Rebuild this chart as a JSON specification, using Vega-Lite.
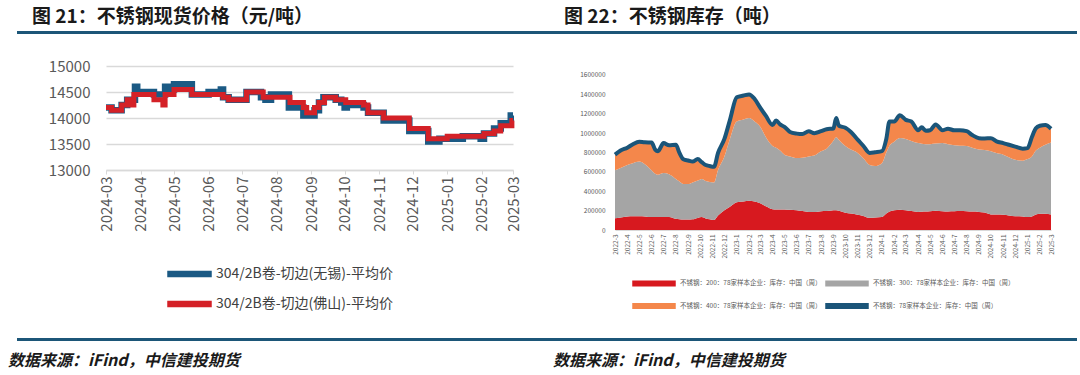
{
  "$schema": "https://vega.github.io/schema/vega-lite/v6.json",
  "background": "white",
  "padding": {"left": 8, "top": 7, "right": 0, "bottom": 0},
  "config": {
    "font": "Noto Sans CJK SC",
    "view": {"stroke": null},
    "axis": {"labelFont": "Noto Sans CJK SC", "labelColor": "#595959"},
    "legend": {"labelFont": "Noto Sans CJK SC"}
  },
  "spacing": 21,
  "vconcat": [
    {
      "spacing": 21,
      "vconcat": [
        {
          "spacing": 0,
          "hconcat": [
            {
              "width": 530, "height": 3,
              "view": {"fill": "#1c5678", "stroke": null},
              "title": {"text": "图 21：不锈钢现货价格（元/吨）", "anchor": "start", "dx": 15, "offset": 0, "fontSize": 19, "fontWeight": "bold", "font": "Noto Sans CJK SC", "color": "#1a1a1a"},
              "data": {"values": [{}]},
              "mark": {"type": "text"},
              "encoding": {"text": {"value": ""}}
            },
            {
              "width": 530, "height": 3,
              "view": {"fill": "#1c5678", "stroke": null},
              "title": {"text": "图 22：不锈钢库存（吨）", "anchor": "start", "dx": 17, "offset": 0, "fontSize": 19, "fontWeight": "bold", "font": "Noto Sans CJK SC", "color": "#1a1a1a"},
              "data": {"values": [{}]},
              "mark": {"type": "text"},
              "encoding": {"text": {"value": ""}}
            }
          ]
        },
        {
          "spacing": 0,
          "resolve": {"scale": {"color": "independent"}, "legend": {"color": "independent"}},
          "hconcat": [
            {
              "width": 31, "height": 1,
              "view": {"stroke": null},
              "data": {"values": [{}]},
              "mark": {"type": "text"},
              "encoding": {"text": {"value": ""}}
            },
            {
              "width": 407, "height": 104,
              "data": {"values": [
                {"d": "2024-03-01", "s": "304/2B卷-切边(无锡)-平均价", "v": 14200},
                {"d": "2024-03-06", "s": "304/2B卷-切边(无锡)-平均价", "v": 14150},
                {"d": "2024-03-15", "s": "304/2B卷-切边(无锡)-平均价", "v": 14250},
                {"d": "2024-03-20", "s": "304/2B卷-切边(无锡)-平均价", "v": 14350},
                {"d": "2024-03-27", "s": "304/2B卷-切边(无锡)-平均价", "v": 14600},
                {"d": "2024-03-29", "s": "304/2B卷-切边(无锡)-平均价", "v": 14500},
                {"d": "2024-04-13", "s": "304/2B卷-切边(无锡)-平均价", "v": 14450},
                {"d": "2024-04-23", "s": "304/2B卷-切边(无锡)-平均价", "v": 14600},
                {"d": "2024-04-26", "s": "304/2B卷-切边(无锡)-平均价", "v": 14550},
                {"d": "2024-05-01", "s": "304/2B卷-切边(无锡)-平均价", "v": 14650},
                {"d": "2024-05-17", "s": "304/2B卷-切边(无锡)-平均价", "v": 14450},
                {"d": "2024-06-01", "s": "304/2B卷-切边(无锡)-平均价", "v": 14500},
                {"d": "2024-06-12", "s": "304/2B卷-切边(无锡)-平均价", "v": 14550},
                {"d": "2024-06-14", "s": "304/2B卷-切边(无锡)-平均价", "v": 14400},
                {"d": "2024-06-19", "s": "304/2B卷-切边(无锡)-平均价", "v": 14350},
                {"d": "2024-07-05", "s": "304/2B卷-切边(无锡)-平均价", "v": 14500},
                {"d": "2024-07-18", "s": "304/2B卷-切边(无锡)-平均价", "v": 14400},
                {"d": "2024-07-22", "s": "304/2B卷-切边(无锡)-平均价", "v": 14350},
                {"d": "2024-07-27", "s": "304/2B卷-切边(无锡)-平均价", "v": 14450},
                {"d": "2024-08-12", "s": "304/2B卷-切边(无锡)-平均价", "v": 14200},
                {"d": "2024-08-25", "s": "304/2B卷-切边(无锡)-平均价", "v": 14050},
                {"d": "2024-09-04", "s": "304/2B卷-切边(无锡)-平均价", "v": 14150},
                {"d": "2024-09-08", "s": "304/2B卷-切边(无锡)-平均价", "v": 14300},
                {"d": "2024-09-12", "s": "304/2B卷-切边(无锡)-平均价", "v": 14400},
                {"d": "2024-09-23", "s": "304/2B卷-切边(无锡)-平均价", "v": 14350},
                {"d": "2024-09-28", "s": "304/2B卷-切边(无锡)-平均价", "v": 14300},
                {"d": "2024-10-01", "s": "304/2B卷-切边(无锡)-平均价", "v": 14200},
                {"d": "2024-10-03", "s": "304/2B卷-切边(无锡)-平均价", "v": 14250},
                {"d": "2024-10-18", "s": "304/2B卷-切边(无锡)-平均价", "v": 14200},
                {"d": "2024-10-22", "s": "304/2B卷-切边(无锡)-平均价", "v": 14100},
                {"d": "2024-11-05", "s": "304/2B卷-切边(无锡)-平均价", "v": 13950},
                {"d": "2024-11-28", "s": "304/2B卷-切边(无锡)-平均价", "v": 13750},
                {"d": "2024-12-15", "s": "304/2B卷-切边(无锡)-平均价", "v": 13550},
                {"d": "2024-12-25", "s": "304/2B卷-切边(无锡)-平均价", "v": 13600},
                {"d": "2025-01-15", "s": "304/2B卷-切边(无锡)-平均价", "v": 13650},
                {"d": "2025-01-31", "s": "304/2B卷-切边(无锡)-平均价", "v": 13600},
                {"d": "2025-02-03", "s": "304/2B卷-切边(无锡)-平均价", "v": 13700},
                {"d": "2025-02-12", "s": "304/2B卷-切边(无锡)-平均价", "v": 13800},
                {"d": "2025-02-18", "s": "304/2B卷-切边(无锡)-平均价", "v": 13900},
                {"d": "2025-02-27", "s": "304/2B卷-切边(无锡)-平均价", "v": 14050},
                {"d": "2025-03-01", "s": "304/2B卷-切边(无锡)-平均价", "v": 14050},
                {"d": "2024-03-01", "s": "304/2B卷-切边(佛山)-平均价", "v": 14200},
                {"d": "2024-03-06", "s": "304/2B卷-切边(佛山)-平均价", "v": 14150},
                {"d": "2024-03-15", "s": "304/2B卷-切边(佛山)-平均价", "v": 14250},
                {"d": "2024-03-20", "s": "304/2B卷-切边(佛山)-平均价", "v": 14350},
                {"d": "2024-03-24", "s": "304/2B卷-切边(佛山)-平均价", "v": 14250},
                {"d": "2024-03-26", "s": "304/2B卷-切边(佛山)-平均价", "v": 14450},
                {"d": "2024-04-13", "s": "304/2B卷-切边(佛山)-平均价", "v": 14350},
                {"d": "2024-04-21", "s": "304/2B卷-切边(佛山)-平均价", "v": 14250},
                {"d": "2024-04-23", "s": "304/2B卷-切边(佛山)-平均价", "v": 14450},
                {"d": "2024-05-01", "s": "304/2B卷-切边(佛山)-平均价", "v": 14550},
                {"d": "2024-05-17", "s": "304/2B卷-切边(佛山)-平均价", "v": 14450},
                {"d": "2024-06-14", "s": "304/2B卷-切边(佛山)-平均价", "v": 14400},
                {"d": "2024-06-19", "s": "304/2B卷-切边(佛山)-平均价", "v": 14350},
                {"d": "2024-07-05", "s": "304/2B卷-切边(佛山)-平均价", "v": 14500},
                {"d": "2024-07-20", "s": "304/2B卷-切边(佛山)-平均价", "v": 14400},
                {"d": "2024-08-13", "s": "304/2B卷-切边(佛山)-平均价", "v": 14300},
                {"d": "2024-08-25", "s": "304/2B卷-切边(佛山)-平均价", "v": 14200},
                {"d": "2024-08-28", "s": "304/2B卷-切边(佛山)-平均价", "v": 14100},
                {"d": "2024-09-04", "s": "304/2B卷-切边(佛山)-平均价", "v": 14200},
                {"d": "2024-09-08", "s": "304/2B卷-切边(佛山)-平均价", "v": 14300},
                {"d": "2024-09-13", "s": "304/2B卷-切边(佛山)-平均价", "v": 14400},
                {"d": "2024-09-23", "s": "304/2B卷-切边(佛山)-平均价", "v": 14350},
                {"d": "2024-10-02", "s": "304/2B卷-切边(佛山)-平均价", "v": 14300},
                {"d": "2024-10-18", "s": "304/2B卷-切边(佛山)-平均价", "v": 14250},
                {"d": "2024-10-22", "s": "304/2B卷-切边(佛山)-平均价", "v": 14100},
                {"d": "2024-11-05", "s": "304/2B卷-切边(佛山)-平均价", "v": 14000},
                {"d": "2024-11-28", "s": "304/2B卷-切边(佛山)-平均价", "v": 13800},
                {"d": "2024-12-15", "s": "304/2B卷-切边(佛山)-平均价", "v": 13600},
                {"d": "2025-01-01", "s": "304/2B卷-切边(佛山)-平均价", "v": 13650},
                {"d": "2025-02-03", "s": "304/2B卷-切边(佛山)-平均价", "v": 13700},
                {"d": "2025-02-12", "s": "304/2B卷-切边(佛山)-平均价", "v": 13750},
                {"d": "2025-02-18", "s": "304/2B卷-切边(佛山)-平均价", "v": 13850},
                {"d": "2025-02-28", "s": "304/2B卷-切边(佛山)-平均价", "v": 13950},
                {"d": "2025-03-01", "s": "304/2B卷-切边(佛山)-平均价", "v": 13950}
              ]},
              "encoding": {
                "x": {"field": "d", "type": "temporal",
                  "scale": {"type": "utc", "domain": [{"year": 2024, "month": 3, "date": 1, "utc": true}, {"year": 2025, "month": 3, "date": 1, "utc": true}]},
                  "axis": {"title": null, "format": "%Y-%m", "tickCount": {"interval": "month", "step": 1}, "labelAngle": 270, "labelFontSize": 15, "labelPadding": 2, "domainColor": "#d9d9d9", "domainWidth": 1.5, "tickColor": "#d9d9d9", "tickSize": 4, "grid": false, "labelFlush": false, "labelOverlap": false}},
                "y": {"field": "v", "type": "quantitative",
                  "scale": {"domain": [13000, 15000], "nice": false, "zero": false},
                  "axis": {"title": null, "values": [13000, 13500, 14000, 14500, 15000], "format": "d", "labelFontSize": 15, "labelPadding": 16, "domain": false, "ticks": false, "grid": true, "gridColor": "#d9d9d9", "gridWidth": 1.5}},
                "color": {"field": "s", "type": "nominal",
                  "scale": {"domain": ["304/2B卷-切边(无锡)-平均价", "304/2B卷-切边(佛山)-平均价"], "range": ["#1b5a84", "#d42127"]},
                  "legend": {"orient": "none", "legendX": 60, "legendY": 201, "direction": "vertical", "title": null, "symbolType": "M-1,-0.52H7.6V0.52H-1Z", "symbolSize": 100, "labelOffset": 36, "labelFontSize": 14, "labelColor": "#404040", "labelLimit": 400, "rowPadding": 16, "padding": 0,
                    "encode": {"symbols": {"update": {"fill": {"signal": "indexof(datum.value, '无锡') >= 0 ? '#1b5a84' : '#d42127'"}, "stroke": {"value": "transparent"}, "opacity": {"value": 1}}}}}}
              },
              "layer": [
                {"transform": [{"filter": "indexof(datum.s, '无锡') >= 0"}], "mark": {"type": "line", "interpolate": "step-after", "strokeWidth": 6.5}},
                {"transform": [{"filter": "indexof(datum.s, '佛山') >= 0"}], "mark": {"type": "line", "interpolate": "step-after", "strokeWidth": 5}}
              ]
            },
            {
              "width": 53, "height": 1,
              "view": {"stroke": null},
              "data": {"values": [{}]},
              "mark": {"type": "text"},
              "encoding": {"text": {"value": ""}}
            },
            {
              "width": 436, "height": 164,
              "data": {"values": [
                {"d": "2022-03-01", "a": 122000, "b": 495000, "c": 161000, "t": 778000},
                {"d": "2022-03-15", "a": 130000, "b": 510000, "c": 180000, "t": 820000},
                {"d": "2022-04-01", "a": 140000, "b": 531000, "c": 179000, "t": 850000},
                {"d": "2022-04-15", "a": 142000, "b": 548000, "c": 196000, "t": 886000},
                {"d": "2022-05-01", "a": 143000, "b": 564000, "c": 204000, "t": 911000},
                {"d": "2022-05-15", "a": 140000, "b": 540000, "c": 225000, "t": 905000},
                {"d": "2022-06-01", "a": 133000, "b": 484000, "c": 287000, "t": 904000},
                {"d": "2022-06-10", "a": 133000, "b": 447000, "c": 250000, "t": 830000},
                {"d": "2022-06-17", "a": 133000, "b": 437000, "c": 244000, "t": 814000},
                {"d": "2022-07-01", "a": 133000, "b": 455000, "c": 309000, "t": 897000},
                {"d": "2022-07-15", "a": 135000, "b": 440000, "c": 300000, "t": 875000},
                {"d": "2022-08-01", "a": 115000, "b": 412000, "c": 352000, "t": 879000},
                {"d": "2022-08-10", "a": 112000, "b": 388000, "c": 296000, "t": 796000},
                {"d": "2022-08-20", "a": 108000, "b": 367000, "c": 255000, "t": 730000},
                {"d": "2022-09-01", "a": 108000, "b": 366000, "c": 243000, "t": 717000},
                {"d": "2022-09-12", "a": 110000, "b": 380000, "c": 217000, "t": 707000},
                {"d": "2022-09-25", "a": 125000, "b": 385000, "c": 222000, "t": 732000},
                {"d": "2022-10-05", "a": 133000, "b": 394000, "c": 173000, "t": 700000},
                {"d": "2022-10-15", "a": 120000, "b": 385000, "c": 166000, "t": 671000},
                {"d": "2022-10-25", "a": 110000, "b": 385000, "c": 165000, "t": 660000},
                {"d": "2022-11-05", "a": 104000, "b": 387000, "c": 162000, "t": 653000},
                {"d": "2022-11-15", "a": 150000, "b": 470000, "c": 176000, "t": 796000},
                {"d": "2022-12-01", "a": 204000, "b": 556000, "c": 180000, "t": 940000},
                {"d": "2022-12-15", "a": 240000, "b": 700000, "c": 197000, "t": 1137000},
                {"d": "2023-01-01", "a": 287000, "b": 832000, "c": 251000, "t": 1370000},
                {"d": "2023-01-18", "a": 295000, "b": 845000, "c": 248000, "t": 1388000},
                {"d": "2023-02-01", "a": 301000, "b": 854000, "c": 245000, "t": 1400000},
                {"d": "2023-02-15", "a": 295000, "b": 825000, "c": 233000, "t": 1353000},
                {"d": "2023-03-01", "a": 276000, "b": 789000, "c": 198000, "t": 1263000},
                {"d": "2023-03-15", "a": 245000, "b": 715000, "c": 220000, "t": 1180000},
                {"d": "2023-04-01", "a": 215000, "b": 653000, "c": 216000, "t": 1084000},
                {"d": "2023-04-10", "a": 212000, "b": 638000, "c": 280000, "t": 1130000},
                {"d": "2023-04-20", "a": 212000, "b": 608000, "c": 270000, "t": 1090000},
                {"d": "2023-05-01", "a": 212000, "b": 566000, "c": 287000, "t": 1065000},
                {"d": "2023-05-15", "a": 208000, "b": 552000, "c": 252000, "t": 1012000},
                {"d": "2023-06-01", "a": 204000, "b": 538000, "c": 253000, "t": 995000},
                {"d": "2023-06-15", "a": 195000, "b": 550000, "c": 245000, "t": 990000},
                {"d": "2023-07-01", "a": 187000, "b": 573000, "c": 260000, "t": 1020000},
                {"d": "2023-07-15", "a": 185000, "b": 585000, "c": 230000, "t": 1000000},
                {"d": "2023-08-01", "a": 194000, "b": 620000, "c": 206000, "t": 1020000},
                {"d": "2023-08-15", "a": 195000, "b": 645000, "c": 200000, "t": 1040000},
                {"d": "2023-09-01", "a": 204000, "b": 718000, "c": 126000, "t": 1048000},
                {"d": "2023-09-08", "a": 205000, "b": 753000, "c": 197000, "t": 1155000},
                {"d": "2023-09-15", "a": 200000, "b": 730000, "c": 146000, "t": 1076000},
                {"d": "2023-10-01", "a": 179000, "b": 689000, "c": 187000, "t": 1055000},
                {"d": "2023-10-15", "a": 170000, "b": 660000, "c": 182000, "t": 1012000},
                {"d": "2023-11-01", "a": 158000, "b": 638000, "c": 137000, "t": 933000},
                {"d": "2023-11-15", "a": 145000, "b": 595000, "c": 130000, "t": 870000},
                {"d": "2023-12-01", "a": 126000, "b": 545000, "c": 125000, "t": 796000},
                {"d": "2023-12-15", "a": 128000, "b": 532000, "c": 143000, "t": 803000},
                {"d": "2024-01-01", "a": 133000, "b": 556000, "c": 125000, "t": 814000},
                {"d": "2024-01-12", "a": 170000, "b": 630000, "c": 140000, "t": 940000},
                {"d": "2024-01-20", "a": 190000, "b": 680000, "c": 250000, "t": 1120000},
                {"d": "2024-02-01", "a": 204000, "b": 707000, "c": 209000, "t": 1120000},
                {"d": "2024-02-15", "a": 210000, "b": 740000, "c": 234000, "t": 1184000},
                {"d": "2024-03-01", "a": 204000, "b": 736000, "c": 197000, "t": 1137000},
                {"d": "2024-03-15", "a": 195000, "b": 725000, "c": 200000, "t": 1120000},
                {"d": "2024-04-01", "a": 187000, "b": 710000, "c": 133000, "t": 1030000},
                {"d": "2024-04-10", "a": 188000, "b": 702000, "c": 170000, "t": 1060000},
                {"d": "2024-04-20", "a": 190000, "b": 695000, "c": 140000, "t": 1025000},
                {"d": "2024-05-01", "a": 194000, "b": 692000, "c": 144000, "t": 1030000},
                {"d": "2024-05-15", "a": 200000, "b": 692000, "c": 198000, "t": 1090000},
                {"d": "2024-06-01", "a": 194000, "b": 703000, "c": 133000, "t": 1030000},
                {"d": "2024-06-15", "a": 192000, "b": 693000, "c": 160000, "t": 1045000},
                {"d": "2024-07-01", "a": 194000, "b": 681000, "c": 155000, "t": 1030000},
                {"d": "2024-07-15", "a": 195000, "b": 675000, "c": 160000, "t": 1030000},
                {"d": "2024-08-01", "a": 194000, "b": 674000, "c": 152000, "t": 1020000},
                {"d": "2024-08-15", "a": 190000, "b": 660000, "c": 130000, "t": 980000},
                {"d": "2024-09-01", "a": 187000, "b": 645000, "c": 116000, "t": 948000},
                {"d": "2024-09-15", "a": 180000, "b": 645000, "c": 120000, "t": 945000},
                {"d": "2024-10-01", "a": 161000, "b": 653000, "c": 134000, "t": 948000},
                {"d": "2024-10-15", "a": 160000, "b": 635000, "c": 120000, "t": 915000},
                {"d": "2024-11-01", "a": 158000, "b": 620000, "c": 119000, "t": 897000},
                {"d": "2024-11-15", "a": 150000, "b": 600000, "c": 130000, "t": 880000},
                {"d": "2024-12-01", "a": 143000, "b": 581000, "c": 137000, "t": 861000},
                {"d": "2024-12-20", "a": 140000, "b": 575000, "c": 125000, "t": 840000},
                {"d": "2025-01-01", "a": 133000, "b": 599000, "c": 113000, "t": 845000},
                {"d": "2025-01-12", "a": 140000, "b": 620000, "c": 200000, "t": 960000},
                {"d": "2025-01-22", "a": 160000, "b": 660000, "c": 230000, "t": 1050000},
                {"d": "2025-02-01", "a": 169000, "b": 681000, "c": 226000, "t": 1076000},
                {"d": "2025-02-15", "a": 168000, "b": 712000, "c": 204000, "t": 1084000},
                {"d": "2025-03-01", "a": 161000, "b": 743000, "c": 141000, "t": 1045000}
              ]},
              "encoding": {
                "x": {"field": "d", "type": "temporal",
                  "scale": {"type": "utc", "domain": [{"year": 2022, "month": 3, "date": 1, "utc": true}, {"year": 2025, "month": 3, "date": 1, "utc": true}]},
                  "axis": {"title": null, "format": "%Y-%-m", "tickCount": {"interval": "month", "step": 1}, "labelAngle": 270, "labelFontSize": 6.5, "labelPadding": 4, "domainColor": "#d9d9d9", "domainWidth": 1, "ticks": false, "grid": false, "labelFlush": false, "labelOverlap": false}}
              },
              "layer": [
                {
                  "transform": [{"fold": ["a", "b", "c"], "as": ["k", "val"]}],
                  "mark": {"type": "area", "interpolate": "monotone", "opacity": 1},
                  "encoding": {
                    "y": {"field": "val", "type": "quantitative", "stack": "zero",
                      "scale": {"domain": [0, 1692900], "nice": false},
                      "axis": {"title": null, "values": [0, 200000, 400000, 600000, 800000, 1000000, 1200000, 1400000, 1600000], "format": "d", "labelFontSize": 6.5, "labelPadding": 10, "labelOverlap": false, "labelBound": false, "domain": false, "ticks": false, "grid": false}},
                    "order": {"field": "k", "sort": "ascending"},
                    "color": {"field": "k", "type": "nominal",
                      "scale": {"domain": ["a", "b", "c", "t"], "range": ["#d7191f", "#a5a5a5", "#f4874b", "#1b5579"]},
                      "legend": {"orient": "none", "legendX": 17, "legendY": 211, "columns": 2, "direction": "horizontal", "title": null, "symbolType": "M-1,-0.45H7.4V0.45H-1Z", "symbolSize": 100, "labelOffset": 36, "labelFontSize": 6.5, "labelColor": "#595959", "labelLimit": 300, "rowPadding": 11, "columnPadding": 1, "padding": 0,
                        "labelExpr": "datum.value === 'a' ? '不锈钢：200：78家样本企业：库存：中国（周）' : datum.value === 'b' ? '不锈钢：300：78家样本企业：库存：中国（周）' : datum.value === 'c' ? '不锈钢：400：78家样本企业：库存：中国（周）' : '不锈钢：78家样本企业：库存：中国（周）'",
                        "encode": {"symbols": {"update": {
                          "shape": {"signal": "datum.value === 't' ? 'M-1,-0.2H7.4V0.2H-1Z' : 'M-1,-0.45H7.4V0.45H-1Z'"},
                          "fill": {"signal": "datum.value === 'a' ? '#d7191f' : datum.value === 'b' ? '#a5a5a5' : datum.value === 'c' ? '#f4874b' : '#1b5579'"},
                          "stroke": {"value": "transparent"}, "opacity": {"value": 1}}}}}}
                  }
                },
                {
                  "mark": {"type": "line", "interpolate": "monotone", "strokeWidth": 4},
                  "encoding": {
                    "y": {"field": "t", "type": "quantitative",
                      "axis": {"title": null, "values": [0, 200000, 400000, 600000, 800000, 1000000, 1200000, 1400000, 1600000], "format": "d", "labelFontSize": 6.5, "labelPadding": 10, "labelOverlap": false, "labelBound": false, "domain": false, "ticks": false, "grid": false}},
                    "color": {"datum": "t", "type": "nominal"}
                  }
                }
              ]
            }
          ]
        }
      ]
    },
    {
      "spacing": 0,
      "hconcat": [
        {
          "width": 530, "height": 3,
          "view": {"fill": "#1c5678", "stroke": null},
          "title": {"text": "数据来源：iFind，中信建投期货", "orient": "bottom", "anchor": "start", "dx": -9, "offset": 8, "fontSize": 16, "fontWeight": "bold", "fontStyle": "italic", "font": "Noto Sans CJK SC", "color": "#1a1a1a"},
          "data": {"values": [{}]},
          "mark": {"type": "text"},
          "encoding": {"text": {"value": ""}}
        },
        {
          "width": 530, "height": 3,
          "view": {"fill": "#1c5678", "stroke": null},
          "title": {"text": "数据来源：iFind，中信建投期货", "orient": "bottom", "anchor": "start", "dx": 6, "offset": 8, "fontSize": 16, "fontWeight": "bold", "fontStyle": "italic", "font": "Noto Sans CJK SC", "color": "#1a1a1a"},
          "data": {"values": [{}]},
          "mark": {"type": "text"},
          "encoding": {"text": {"value": ""}}
        }
      ]
    }
  ]
}
